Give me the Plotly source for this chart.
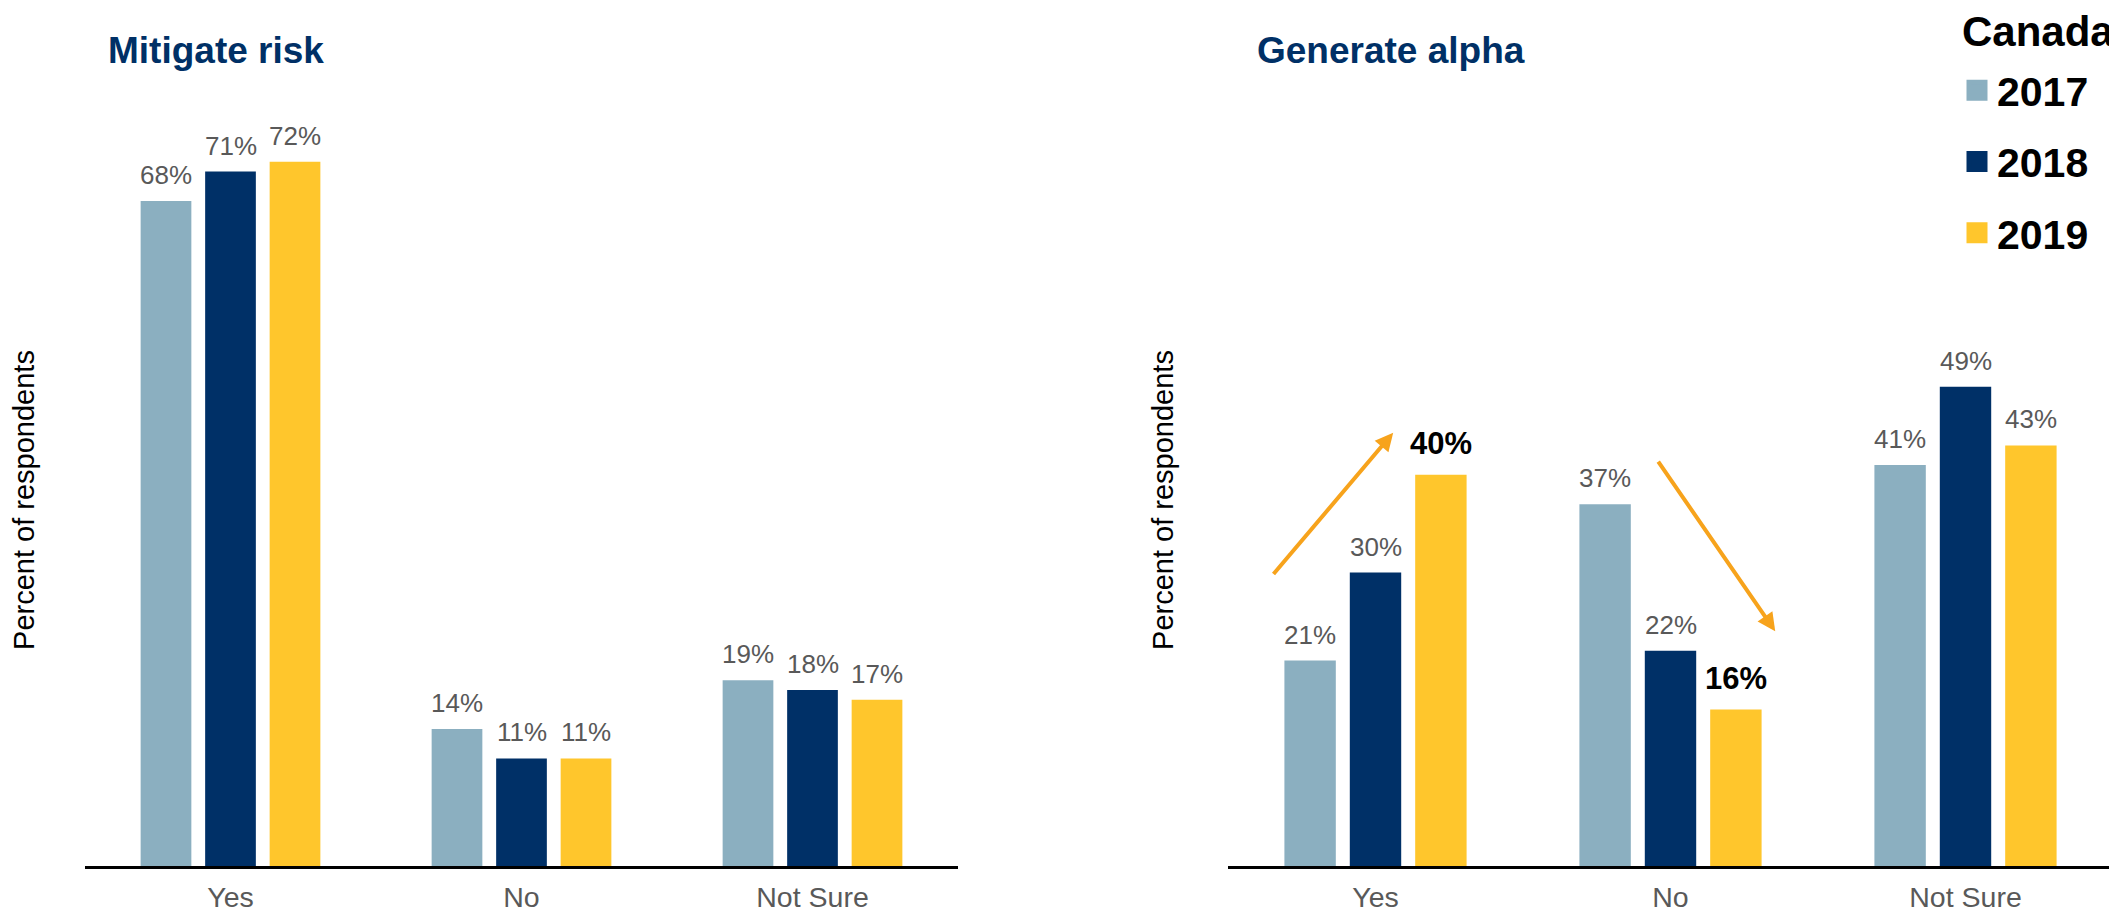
import plotly.graph_objects as go

# ---------------- data ----------------
categories = ["Yes", "No", "Not Sure"]
years = ["2017", "2018", "2019"]

mitigate_2017 = [68, 14, 19]
mitigate_2018 = [71, 11, 18]
mitigate_2019 = [72, 11, 17]

alpha_2017 = [21, 37, 41]
alpha_2018 = [30, 22, 49]
alpha_2019 = [40, 16, 43]

panel_titles = ["Mitigate risk", "Generate alpha"]
y_title = "Percent of respondents"
legend_title = "Canada"

# labels shown emphasised (panel index, year, category)
highlight = {(1, "2019", "Yes"), (1, "2019", "No")}

# trend arrows on the "Generate alpha" panel: (tail x, tail y, head x, head y) in axis units
trend_arrows = [(-0.35, 29.7, 0.06, 44.3), (0.955, 41.5, 1.355, 24.0)]

# ---------------- style / layout ----------------
PAGE_W, PAGE_H = 2117, 914
OFF = 8                       # page body margin of the html page
W, H = PAGE_W - OFF, PAGE_H - OFF
FONT = "Liberation Sans, Arial, sans-serif"
colors = {"2017": "#8BAFC0", "2018": "#003067", "2019": "#FFC62C"}
title_color = "#003066"
label_grey = "#595959"
arrow_color = "#F7A31C"

PLOT_TOP, PLOT_BOT = 134 - OFF, 866 - OFF      # figure px
PX_PER_UNIT = 9.78
YMAX = (PLOT_BOT - PLOT_TOP) / PX_PER_UNIT
BARGAP, BARGROUPGAP = 0.335, 0.214
SLOT = (1 - BARGAP) / len(years)


def fx(px):  # screen px -> paper x
    return (px - OFF) / W


def fy(py):  # screen px -> paper y
    return (PLOT_BOT - (py - OFF)) / (PLOT_BOT - PLOT_TOP)


panels = [
    [mitigate_2017, mitigate_2018, mitigate_2019],
    [alpha_2017, alpha_2018, alpha_2019],
]

fig = go.Figure()
for p, series in enumerate(panels):
    xa = "x" if p == 0 else "x2"
    ya = "y" if p == 0 else "y2"
    for k, (year, vals) in enumerate(zip(years, series)):
        fig.add_trace(go.Bar(
            x=categories, y=vals, name=year,
            marker=dict(color=colors[year], line=dict(width=0)),
            cliponaxis=False, xaxis=xa, yaxis=ya,
            showlegend=False, legendgroup=year, hoverinfo="skip",
        ))
        # value labels above the bars
        for ci, (cat, v) in enumerate(zip(categories, vals)):
            hl = (p, year, cat) in highlight
            fig.add_annotation(
                x=ci + (k - 1) * SLOT, y=v, xref=xa, yref=ya,
                text=f"<b>{v}%</b>" if hl else f"{v}%",
                showarrow=False, xanchor="center", yanchor="bottom",
                yshift=12 if hl else 9,
                font=dict(size=31 if hl else 26, color="#000000" if hl else label_grey,
                          family=FONT),
            )

# legend entries (square swatches)
for year in years:
    fig.add_trace(go.Scatter(
        x=[None], y=[None], mode="markers", name=year, legendgroup=year,
        marker=dict(symbol="square", size=16, color=colors[year],
                    line=dict(width=5, color=colors[year])),
        xaxis="x2", yaxis="y2", hoverinfo="skip",
    ))

common_x = dict(showline=True, linecolor="#000000", linewidth=2.5, ticks="",
                showgrid=False, zeroline=False, ticklabelstandoff=4,
                tickfont=dict(size=28.5, color=label_grey, family=FONT))


def y_axis(standoff):
    return dict(range=[0, YMAX], showticklabels=False, showgrid=False,
                zeroline=False, showline=False, ticks="",
                title=dict(text=y_title, font=dict(size=29, color="#000000", family=FONT),
                           standoff=standoff))


fig.update_layout(
    width=W, height=H,
    margin=dict(l=0, r=0, t=PLOT_TOP, b=H - PLOT_BOT, autoexpand=False),
    paper_bgcolor="white", plot_bgcolor="white",
    barmode="group", bargap=BARGAP, bargroupgap=BARGROUPGAP,
    font=dict(family=FONT),
    xaxis=dict(domain=[fx(85), fx(958)], anchor="y", **common_x),
    yaxis=dict(domain=[0, 1], anchor="x", **y_axis(46)),
    xaxis2=dict(domain=[fx(1228), fx(2113)], anchor="y2", **common_x),
    yaxis2=dict(domain=[0, 1], anchor="x2", **y_axis(44)),
    legend=dict(
        font=dict(size=41, color="#000000", family=FONT, weight="bold"),
        x=fx(1957), y=fy(57), xanchor="left", yanchor="top",
        tracegroupgap=15, bgcolor="rgba(0,0,0,0)", borderwidth=0,
    ),
    showlegend=True,
)

# legend heading
fig.add_annotation(
    text=f"<b>{legend_title}</b>", xref="paper", yref="paper", x=fx(1960), y=fy(32),
    xanchor="left", yanchor="middle", showarrow=False,
    font=dict(size=42, color="#000000", family=FONT),
)

# panel titles
for t, px in zip(panel_titles, [106, 1255]):
    fig.add_annotation(
        text=f"<b>{t}</b>", xref="paper", yref="paper", x=fx(px), y=fy(50),
        xanchor="left", yanchor="middle", showarrow=False,
        font=dict(size=37, color=title_color, family=FONT),
    )

# trend arrows
for (tx, ty, hx, hy) in trend_arrows:
    fig.add_annotation(
        x=hx, y=hy, ax=tx, ay=ty, xref="x2", yref="y2", axref="x2", ayref="y2",
        text="", showarrow=True, arrowhead=2, arrowsize=0.9, arrowwidth=4,
        arrowcolor=arrow_color, standoff=0,
    )

fig.write_html("out.html")
